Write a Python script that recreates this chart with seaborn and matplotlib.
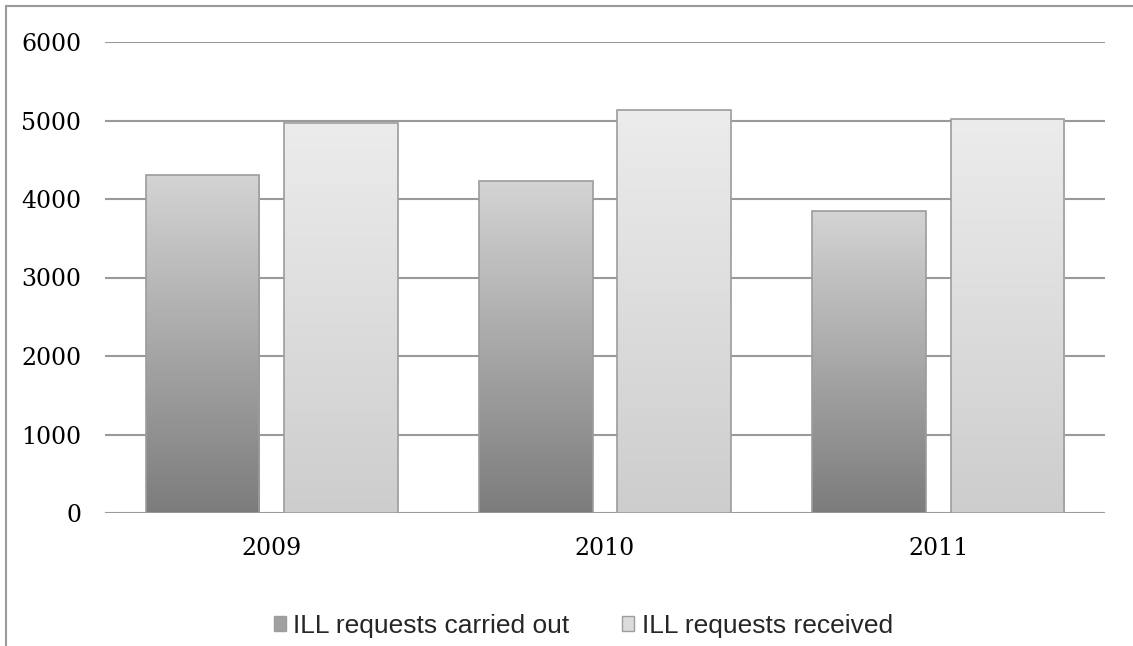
import numpy as np
import pandas as pd
import matplotlib
matplotlib.use("Agg")
import matplotlib.pyplot as plt
from matplotlib.lines import Line2D
from matplotlib.patches import Patch
from matplotlib.colors import LinearSegmentedColormap
import seaborn as sns

# data
years = ["2009", "2010", "2011"]
carried_out = [4310, 4230, 3850]
received = [4970, 5140, 5020]
series_names = ["ILL requests carried out", "ILL requests received"]

df = pd.DataFrame({
    "year": years * 2,
    "requests": carried_out + received,
    "series": [series_names[0]] * len(years) + [series_names[1]] * len(years),
})

sns.set_theme(style="white")
plt.rcParams["font.family"] = ["DejaVu Serif"]

fig = plt.figure(figsize=(11.33, 6.46), dpi=100)
ax = fig.add_axes([105 / 1133, 1 - 513 / 646, 1000 / 1133, 471 / 646])

grid_col = "#9a9a9a"
sns.barplot(data=df, x="year", y="requests", hue="series",
            palette=["#a8a8a8", "#dedede"], width=0.83, gap=0.18,
            edgecolor="#9c9c9c", linewidth=1.2, ax=ax, legend=False)

# gradient fills: top colour -> bottom colour
grads = [("#d4d4d4", "#7c7c7c"), ("#ececec", "#cdcdcd")]
n = len(years)
for i, bar in enumerate(ax.patches[:2 * n]):
    top_c, bot_c = grads[i // n]
    cmap = LinearSegmentedColormap.from_list("g", [bot_c, top_c])
    x0, y0 = bar.get_x(), bar.get_y()
    w, h = bar.get_width(), bar.get_height()
    grad = np.linspace(0, 1, 256).reshape(-1, 1)
    im = ax.imshow(grad, cmap=cmap, origin="lower", aspect="auto",
                   extent=[x0, x0 + w, y0, y0 + h], zorder=2)
    im.set_clip_path(bar)
    bar.set_facecolor("none")
    bar.set_zorder(3)

ax.set_xlim(-0.5, 2.5)
ax.set_ylim(0, 6000)
ax.set_yticks(range(0, 6001, 1000))
ax.yaxis.grid(True, color=grid_col, linewidth=1.5)
ax.set_axisbelow(True)
for s in ax.spines.values():
    s.set_visible(False)
ax.set_xlabel("")
ax.set_ylabel("")
ax.tick_params(axis="y", length=0, pad=17, labelsize=17, labelcolor="black")
ax.tick_params(axis="x", length=0, pad=17, labelsize=17, labelcolor="black")

handles = [Patch(facecolor="#a0a0a0", edgecolor="#9c9c9c"),
           Patch(facecolor="#dcdcdc", edgecolor="#9c9c9c")]
fig.legend(handles, series_names, loc="center", bbox_to_anchor=(0.515, 0.031),
           ncol=2, frameon=False, prop={"family": "Liberation Sans", "size": 19},
           handlelength=0.45, handleheight=0.45, handletextpad=0.3, columnspacing=2.0)

# outer frame of the embedded chart
fx = 6 / 1133
fy = 1 - 6 / 646
fig.add_artist(Line2D([fx, 1], [fy, fy], color=grid_col, lw=1.5, transform=fig.transFigure))
fig.add_artist(Line2D([fx, fx], [0, fy], color=grid_col, lw=1.5, transform=fig.transFigure))

fig.savefig("out.png", dpi=100)
